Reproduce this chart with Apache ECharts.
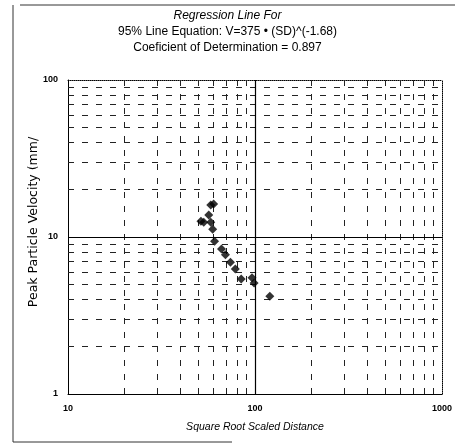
<!DOCTYPE html>
<html>
<head>
<meta charset="utf-8">
<script src="https://cdn.jsdelivr.net/npm/echarts@6/dist/echarts.min.js"></script>
<style>
html,body{margin:0;padding:0;background:#fff;}
#c{width:455px;height:447px;}
</style>
</head>
<body>
<div id="c"></div>
<script>
// Data
const titleLines = ["Regression Line For", "95% Line Equation: V=375 \u2022 (SD)^(-1.68)", "Coeficient of Determination = 0.897"];
const xName = "Square Root Scaled Distance";
const yName = "Peak Particle Velocity (mm/";
const sdValues  = [58.0, 60.1, 56.6, 51.4, 53.2, 58.0, 59.4, 60.8, 66.2, 69.5, 73.9, 78.5, 84.4, 96.4, 98.9, 120];
const ppvValues = [16.0, 16.2, 13.8, 12.6, 12.4, 12.4, 11.2, 9.4, 8.4, 7.7, 6.9, 6.25, 5.4, 5.5, 5.1, 4.2];
const xMajor = [100];
const yMajor = [10];
const xMinor = [20,30,40,50,60,70,80,90,200,300,400,500,600,700,800,900];
const yMinor = [2,3,4,5,6,7,8,9,20,30,40,50,60,70,80,90];

const points = sdValues.map((v, i) => [v, ppvValues[i]]);
const font = 'Liberation Sans, Arial, sans-serif';

const chart = echarts.init(document.getElementById('c'), null, {renderer: 'canvas'});
const dashStyle = {color: '#222', width: 1, type: [6, 8]};
const gridLines = []
  .concat(xMinor.map(v => ({xAxis: v, lineStyle: dashStyle})))
  .concat(yMinor.map(v => ({yAxis: v, lineStyle: dashStyle})))
  .concat(xMajor.map(v => ({xAxis: v, lineStyle: {color: '#000', width: 1.2, type: 'solid'}})))
  .concat(yMajor.map(v => ({yAxis: v, lineStyle: {color: '#000', width: 1.2, type: 'solid'}})));

chart.setOption({
  animation: false,
  backgroundColor: '#fff',
  title: {
    text: titleLines.map((t, i) => i === 0 ? '{it|' + t + '}' : t).join('\n'),
    left: 'center',
    top: 3,
    textStyle: {
      fontFamily: font, fontSize: 12, fontWeight: 'normal', color: '#000', lineHeight: 16,
      rich: {it: {fontFamily: font, fontSize: 12, fontStyle: 'italic', color: '#000', lineHeight: 16}}
    }
  },
  grid: {left: 68, top: 80, right: 8, bottom: 53},
  xAxis: [{
    type: 'log', logBase: 10, min: 10, max: 1000,
    name: xName, nameLocation: 'middle', nameGap: 28,
    nameTextStyle: {fontFamily: font, fontSize: 10.5, fontStyle: 'italic', color: '#000'},
    axisLine: {lineStyle: {color: '#000', width: 1}},
    axisTick: {show: false},
    axisLabel: {fontFamily: font, fontSize: 9, fontWeight: 'bold', color: '#000', margin: 10,
      formatter: v => String(v)},
    splitLine: {show: false}
  }, {
    type: 'log', logBase: 10, min: 10, max: 1000, position: 'top',
    axisLine: {lineStyle: {color: '#000', width: 1, type: 'dotted'}},
    axisTick: {show: false}, axisLabel: {show: false}, splitLine: {show: false}
  }],
  yAxis: [{
    type: 'log', logBase: 10, min: 1, max: 100,
    name: yName, nameLocation: 'middle', nameGap: 28, nameMoveOverlap: false,
    nameTextStyle: {fontFamily: 'DejaVu Sans, sans-serif', fontSize: 12.5, color: '#000', padding: [0, 0, 0, 30]},
    axisLine: {lineStyle: {color: '#000', width: 1}},
    axisTick: {show: false},
    axisLabel: {fontFamily: font, fontSize: 9, fontWeight: 'bold', color: '#000', margin: 10,
      formatter: v => String(v)},
    splitLine: {show: false}
  }, {
    type: 'log', logBase: 10, min: 1, max: 100, position: 'right',
    axisLine: {lineStyle: {color: '#000', width: 1, type: 'dotted'}},
    axisTick: {show: false}, axisLabel: {show: false}, splitLine: {show: false}
  }],
  graphic: [
    {type: 'line', shape: {x1: 13, y1: 5, x2: 13, y2: 442}, style: {stroke: '#333', lineWidth: 1}},
    {type: 'line', shape: {x1: 20, y1: 5, x2: 455, y2: 5}, style: {stroke: '#333', lineWidth: 1}},
    {type: 'line', shape: {x1: 13, y1: 442, x2: 232, y2: 442}, style: {stroke: '#333', lineWidth: 1}}
  ],
  series: [{
    type: 'scatter', name: 'grid', data: [], z: 1, silent: true,
    markLine: {silent: true, symbol: 'none', label: {show: false}, animation: false, data: gridLines}
  }, {
    type: 'scatter', name: 'PPV', data: points, z: 5,
    symbol: 'diamond', symbolSize: 9,
    itemStyle: {color: '#000'}
  }]
});
</script>
</body>
</html>
